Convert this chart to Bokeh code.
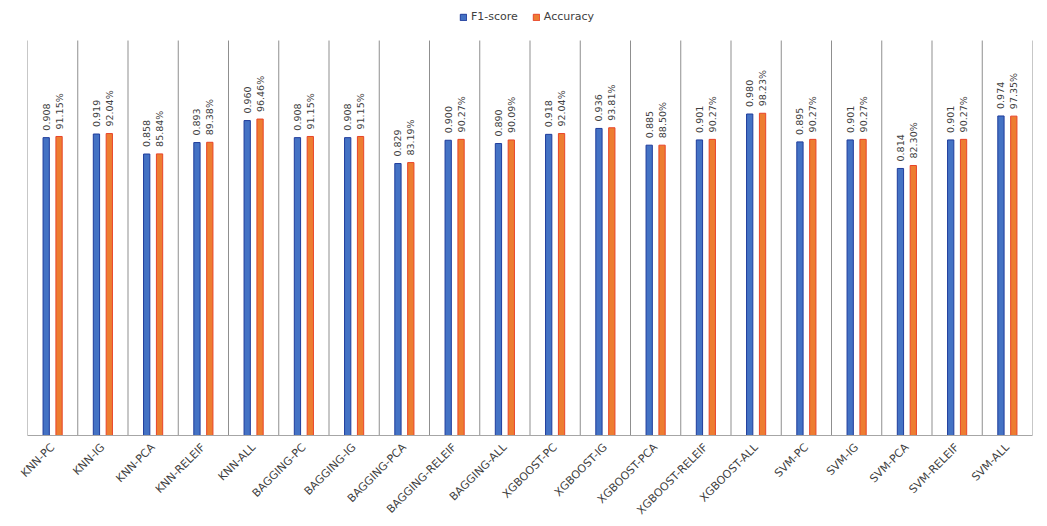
import numpy as np
from bokeh.plotting import figure
from bokeh.models import (Range1d, FixedTicker, ColumnDataSource, LabelSet, Legend, LegendItem)
from bokeh.core.properties import value
from bokeh.embed import file_html
from bokeh.resources import INLINE

categories = ["KNN-PC", "KNN-IG", "KNN-PCA", "KNN-RELEIF", "KNN-ALL",
              "BAGGING-PC", "BAGGING-IG", "BAGGING-PCA", "BAGGING-RELEIF", "BAGGING-ALL",
              "XGBOOST-PC", "XGBOOST-IG", "XGBOOST-PCA", "XGBOOST-RELEIF", "XGBOOST-ALL",
              "SVM-PC", "SVM-IG", "SVM-PCA", "SVM-RELEIF", "SVM-ALL"]
f1_score = [0.908, 0.919, 0.858, 0.893, 0.960, 0.908, 0.908, 0.829, 0.900, 0.890,
            0.918, 0.936, 0.885, 0.901, 0.980, 0.895, 0.901, 0.814, 0.901, 0.974]
accuracy_pct = [91.15, 92.04, 85.84, 89.38, 96.46, 91.15, 91.15, 83.19, 90.27, 90.09,
                92.04, 93.81, 88.50, 90.27, 98.23, 90.27, 90.27, 82.30, 90.27, 97.35]

n = len(categories)
idx = np.arange(n)
x_f1 = idx + 0.372
x_acc = idx + 0.628
acc_frac = [a / 100.0 for a in accuracy_pct]

Y_TOP = 1.204      # top of the category separators
Y_END = 1.326      # frame top (room for the legend)

p = figure(width=1047, height=526, x_range=Range1d(0, n), y_range=Range1d(0, Y_END),
           output_backend="svg", toolbar_location=None,
           min_border_left=27, min_border_right=15, min_border_top=0, min_border_bottom=91)

# category separators
p.segment(x0=list(range(n + 1)), y0=0, x1=list(range(n + 1)), y1=Y_TOP,
          line_color="#8f8f8f", line_width=1)

src_f1 = ColumnDataSource(dict(x=x_f1, top=f1_score, text=[f"{v:.3f}" for v in f1_score]))
src_acc = ColumnDataSource(dict(x=x_acc, top=acc_frac, text=[f"{v:.2f}%" for v in accuracy_pct]))

r1 = p.vbar(x="x", top="top", width=0.125, source=src_f1,
            fill_color="#4472C4", line_color="#1f3c9c", line_width=1)
r2 = p.vbar(x="x", top="top", width=0.125, source=src_acc,
            fill_color="#ED7D31", line_color="#e8442a", line_width=1)

for src in (src_f1, src_acc):
    lbl = LabelSet(x="x", y="top", text="text", source=src, angle=np.pi / 2,
                   text_align="left", text_baseline="middle", y_offset=7,
                   text_font=value("DejaVu Sans"), text_font_size=value("9.5px"),
                   text_color="#404040")
    p.add_layout(lbl)

p.yaxis.visible = False
p.ygrid.grid_line_color = None
p.xgrid.grid_line_color = None
p.outline_line_color = None

p.xaxis.ticker = FixedTicker(ticks=[i + 0.5 for i in range(n)])
p.xaxis.major_label_overrides = {i + 0.5: c for i, c in enumerate(categories)}
p.xaxis.major_label_orientation = np.pi / 4
p.xaxis.major_tick_line_color = None
p.xaxis.minor_tick_line_color = None
p.xaxis.axis_line_color = "#a6a6a6"
p.xaxis.major_label_text_font = "DejaVu Sans"
p.xaxis.major_label_text_font_size = "11px"
p.xaxis.major_label_text_color = "#404040"
p.xaxis.major_label_standoff = 4

legend = Legend(items=[LegendItem(label="F1-score", renderers=[r1]),
                       LegendItem(label="Accuracy", renderers=[r2])],
                orientation="horizontal", location=(432, 412),
                label_text_font="DejaVu Sans", label_text_font_size="11px",
                label_text_color="#404040", glyph_width=8, glyph_height=8,
                label_standoff=4, spacing=14, padding=4, margin=0,
                border_line_color=None, background_fill_alpha=0)
p.add_layout(legend)

open("out.html", "w").write(file_html(p, INLINE))
